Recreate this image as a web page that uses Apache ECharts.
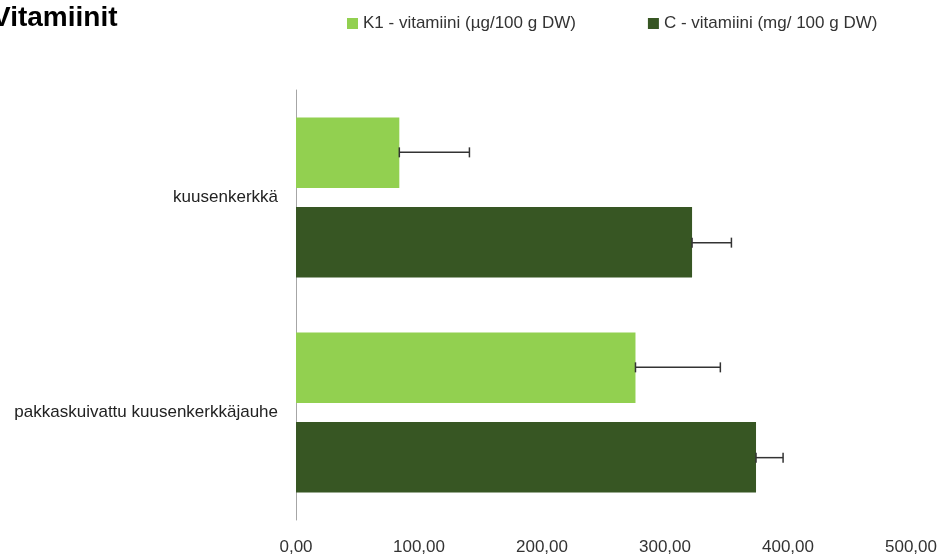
<!DOCTYPE html>
<html>
<head>
<meta charset="utf-8">
<script src="https://cdn.jsdelivr.net/npm/echarts@6/dist/echarts.min.js"></script>
<style>
  html, body { margin: 0; padding: 0; background: #fff; }
  #chart { width: 943px; height: 556px; }
</style>
</head>
<body>
<div id="chart"></div>
<script>
var categories = ['kuusenkerkkä', 'pakkaskuivattu kuusenkerkkäjauhe'];
var k1Name = 'K1 - vitamiini (µg/100 g DW)';
var cName = 'C - vitamiini (mg/ 100 g DW)';
var k1Values = [84, 276];
var k1Errors = [57, 69];
var cValues = [322, 374];
var cErrors = [32, 22];

var FONT = '"Liberation Sans", "Noto Sans", sans-serif';

function errorData(values, errors) {
    var out = [];
    for (var i = 0; i < values.length; i++) {
        out.push([values[i], values[i] + errors[i], i]);
    }
    return out;
}

// shift = offset of the bar centre from the band centre, as part of the band height
function errorSeries(data, shift) {
    return {
        type: 'custom',
        silent: true,
        data: data,
        encode: { x: [0, 1], y: 2 },
        z: 10,
        renderItem: function (params, api) {
            var band = api.size([0, 1])[1];
            var y = api.coord([0, api.value(2)])[1] + shift * band;
            var x1 = api.coord([api.value(0), 0])[0];
            var x2 = api.coord([api.value(1), 0])[0];
            var h = 5;
            var style = { stroke: '#333', lineWidth: 1.5 };
            return {
                type: 'group',
                children: [
                    { type: 'line', shape: { x1: x1, y1: y, x2: x2, y2: y }, style: style },
                    { type: 'line', shape: { x1: x1, y1: y - h, x2: x1, y2: y + h }, style: style },
                    { type: 'line', shape: { x1: x2, y1: y - h, x2: x2, y2: y + h }, style: style }
                ]
            };
        }
    };
}

var myChart = echarts.init(document.getElementById('chart'));
var option = {
    animation: false,
    title: {
        text: 'Vitamiinit',
        left: -13,
        top: -1,
        textStyle: { fontFamily: FONT, fontSize: 28, fontWeight: 'bold', color: '#000' }
    },
    legend: {
        data: [k1Name, cName],
        left: 342,
        top: 10,
        itemWidth: 11,
        itemHeight: 11,
        itemGap: 72,
        icon: 'rect',
        textStyle: { fontFamily: FONT, fontSize: 17, color: '#333' }
    },
    grid: {
        left: 296,
        right: 32,
        top: 90,
        bottom: 36
    },
    xAxis: {
        type: 'value',
        min: 0,
        max: 500,
        interval: 100,
        axisLine: { show: false },
        axisTick: { show: false },
        splitLine: { show: false },
        axisLabel: {
            fontFamily: FONT,
            fontSize: 17,
            color: '#333',
            margin: 19,
            formatter: function (v) { return v.toFixed(2).replace('.', ','); }
        }
    },
    yAxis: {
        type: 'category',
        data: categories,
        inverse: true,
        axisLine: { show: true, lineStyle: { color: '#a6a6a6', width: 1 } },
        axisTick: { show: false },
        axisLabel: { fontFamily: FONT, fontSize: 17, color: '#222', margin: 18 }
    },
    series: [
        {
            name: k1Name,
            type: 'bar',
            data: k1Values,
            barCategoryGap: '25.6%',
            barGap: '27%',
            itemStyle: { color: '#92D050' }
        },
        {
            name: cName,
            type: 'bar',
            data: cValues,
            barCategoryGap: '25.6%',
            barGap: '27%',
            itemStyle: { color: '#375623' }
        },
        errorSeries(errorData(k1Values, k1Errors), -0.21),
        errorSeries(errorData(cValues, cErrors), 0.21)
    ]
};
myChart.setOption(option);
</script>
</body>
</html>
